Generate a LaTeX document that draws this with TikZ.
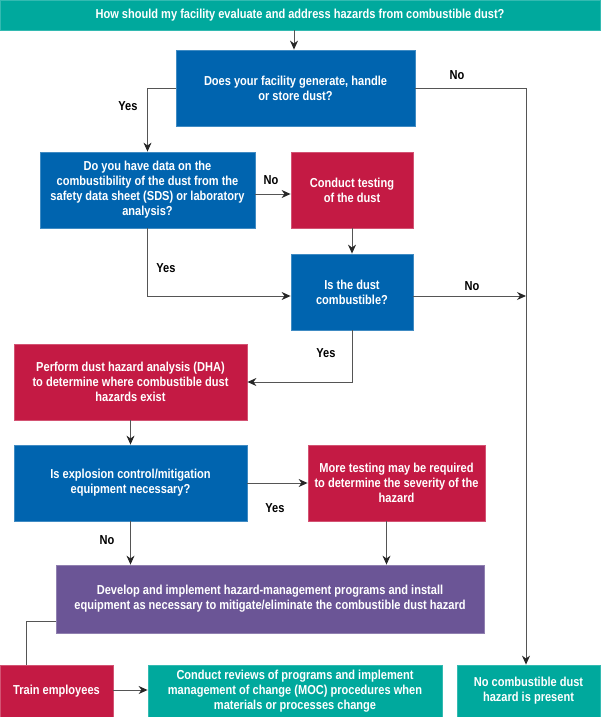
\documentclass[tikz,border=0pt]{standalone}
\usepackage{fontspec}
\setmainfont{Liberation Sans}[FakeStretch=0.85]
\usetikzlibrary{arrows.meta}
\definecolor{cteal}{HTML}{00A99D}
\definecolor{cblue}{HTML}{0064AF}
\definecolor{cred}{HTML}{C41A44}
\definecolor{cpurple}{HTML}{6B5596}
\definecolor{cline}{HTML}{555555}
\begin{document}
\begin{tikzpicture}[x=1pt,y=-1pt,
  every node/.style={font=\fontsize{13}{15}\selectfont\bfseries},
  box/.style={inner sep=0pt, align=center, text=white, line width=0.8pt},
  tealbox/.style={box, fill=cteal, draw=cteal!80!white},
  bluebox/.style={box, fill=cblue, draw=cblue!75!white},
  redbox/.style={box, fill=cred, draw=cred!75!white},
  purplebox/.style={box, fill=cpurple, draw=cpurple!75!white},
  conn/.style={draw=cline, line width=1pt},
  arr/.style={conn, -{Stealth[length=9pt,width=8pt,color=black!85]}},
  lbl/.style={text=black, inner sep=0pt}]
\useasboundingbox (0,0) rectangle (600,717);
\node[tealbox, minimum width=600pt, minimum height=30pt] (hdr) at (300,15) {How should my facility evaluate and address hazards from combustible dust?};
\node[bluebox, minimum width=239pt, minimum height=76pt] (b1) at (295.5,88) {Does your facility generate, handle\\or store dust?};
\node[bluebox, minimum width=215pt, minimum height=76pt] (b2) at (147.5,190) {Do you have data on the\\combustibility of the dust from the\\safety data sheet (SDS) or laboratory\\analysis?};
\node[redbox, minimum width=122pt, minimum height=76pt] (b3) at (352,190) {Conduct testing\\of the dust};
\node[bluebox, minimum width=122pt, minimum height=76pt] (b4) at (352,292) {Is the dust\\combustible?};
\node[redbox, minimum width=233pt, minimum height=76pt] (b5) at (130.5,382) {Perform dust hazard analysis (DHA)\\to determine where combustible dust\\hazards exist};
\node[bluebox, minimum width=233pt, minimum height=76pt] (b6) at (130.5,483) {Is explosion control/mitigation\\equipment necessary?};
\node[redbox, minimum width=177pt, minimum height=76pt] (b7) at (396.5,483) {More testing may be required\\to determine the severity of the\\hazard};
\node[purplebox, minimum width=428pt, minimum height=68pt] (b8) at (270,599) {Develop and implement hazard-management programs and install\\equipment as necessary to mitigate/eliminate the combustible dust hazard};
\node[redbox, minimum width=113pt, minimum height=52pt] (b9) at (56.5,691) {Train employees};
\node[tealbox, minimum width=294pt, minimum height=52pt] (b10) at (295,691) {Conduct reviews of programs and implement\\management of change (MOC) procedures when\\materials or processes change};
\node[tealbox, minimum width=143pt, minimum height=52pt] (b11) at (528.5,691) {No combustible dust\\hazard is present};
\coordinate (rc) at (526,88);
% connectors
\draw[arr] ([xshift=-1.5pt]b1.north |- hdr.south) -- ([xshift=-1.5pt]b1.north);
\draw[arr] (b1.east) -- (rc) -- (rc |- b11.north);
\draw[arr] (b1.west) -| (b2.north);
\draw[arr] ([yshift=-4pt]b2.east) -- ([yshift=-4pt]b3.west);
\draw[arr] (b3.south) -- (b4.north);
\draw[arr] (b2.south) |- ([yshift=-4pt]b4.west);
\draw[arr] ([yshift=-4pt]b4.east) -- ([yshift=-4pt]b4.east -| rc);
\draw[arr] (b4.south) |- (b5.east);
\draw[arr] (b5.south) -- (b6.north);
\draw[arr] (b6.east) -- (b7.west);
\draw[arr] (b6.south) -- (b6.south |- b8.north);
\draw[arr] ([xshift=-10pt]b7.south) -- ([xshift=-10pt]b7.south |- b8.north);
\draw[conn] ([yshift=-22pt]b8.west) -| ([xshift=-30.5pt]b9.north);
\draw[arr] ([yshift=1pt]b9.east) -- ([yshift=1pt]b10.west);
% labels
\node[lbl] (l1) at (457,75) {No};
\node[lbl] (l2) at (128,106) {Yes};
\node[lbl] (l3) at (271,180) {No};
\node[lbl] (l4) at (166,268) {Yes};
\node[lbl] (l5) at (472,286) {No};
\node[lbl] (l6) at (326,353) {Yes};
\node[lbl] (l7) at (275,508) {Yes};
\node[lbl] (l8) at (107,540) {No};
\end{tikzpicture}
\end{document}
